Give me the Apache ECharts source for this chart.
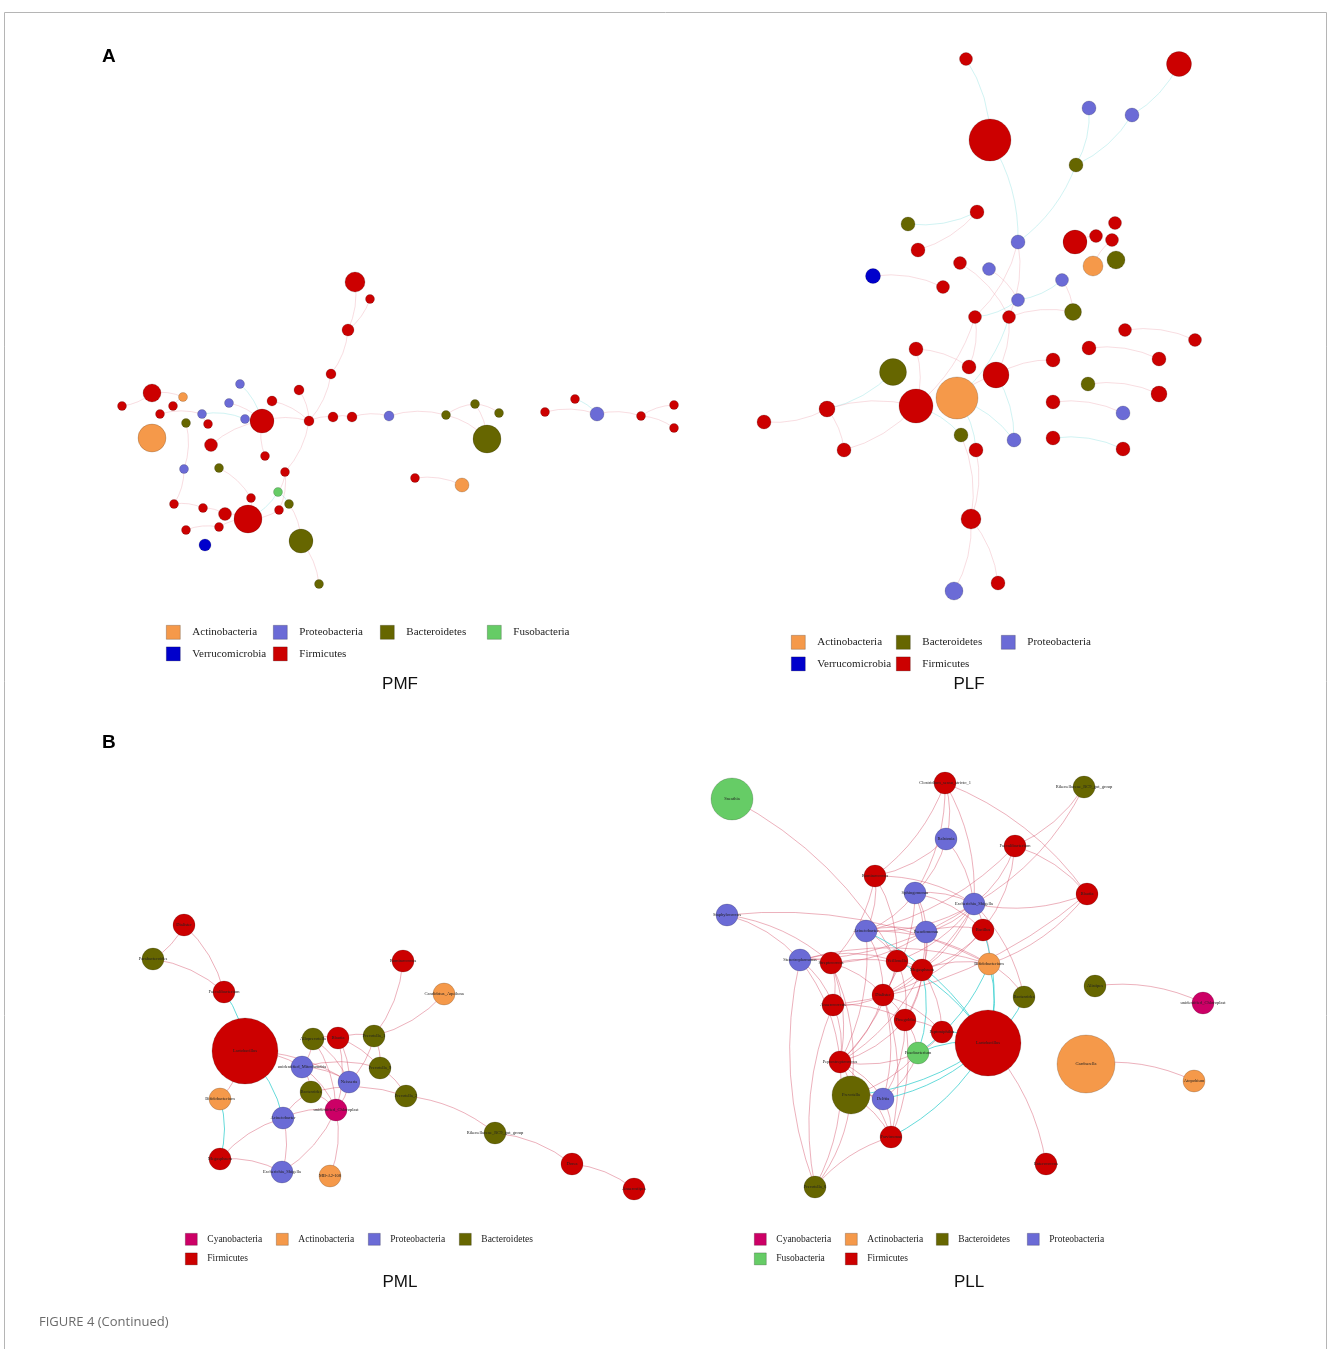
<!DOCTYPE html>
<html>
<head>
<meta charset="utf-8">
<title>Figure 4 (Continued)</title>
<script src="https://cdn.jsdelivr.net/npm/echarts@6/dist/echarts.min.js"></script>
<style>
  html, body { margin: 0; padding: 0; background: #fff; }
  #chart { width: 1328px; height: 1349px; }
</style>
</head>
<body>
<div id="chart"></div>
<script>
// phyla and their colours
const phyla = ['Actinobacteria', 'Proteobacteria', 'Bacteroidetes', 'Fusobacteria',
  'Verrucomicrobia', 'Firmicutes', 'Cyanobacteria'];
const phylumColors = ['#F5994A', '#6B6BD6', '#666600', '#66CC66', '#0000CC', '#CC0000', '#CC0066'];

// nodes: [name, phylum, x, y, abundance]  (x, y = network layout position)
const pmfNodes = [
  ['f1', 'Firmicutes', 355, 282, 20], ['f2', 'Firmicutes', 370, 299, 9],
  ['f3', 'Firmicutes', 348, 330, 12], ['f4', 'Firmicutes', 331, 374, 10],
  ['f5', 'Firmicutes', 299, 390, 10], ['f6', 'Firmicutes', 272, 401, 10],
  ['f7', 'Firmicutes', 309, 421, 10], ['f8', 'Firmicutes', 333, 417, 10],
  ['f9', 'Firmicutes', 352, 417, 10], ['f10', 'Proteobacteria', 389, 416, 10],
  ['f11', 'Firmicutes', 415, 478, 9], ['f12', 'Firmicutes', 262, 421, 24],
  ['f13', 'Proteobacteria', 240, 384, 9], ['f14', 'Proteobacteria', 229, 403, 9],
  ['f15', 'Proteobacteria', 245, 419, 9], ['f16', 'Firmicutes', 152, 393, 18],
  ['f17', 'Actinobacteria', 183, 397, 9], ['f18', 'Firmicutes', 122, 406, 9],
  ['f19', 'Firmicutes', 173, 406, 9], ['f20', 'Firmicutes', 160, 414, 9],
  ['f21', 'Proteobacteria', 202, 414, 9], ['f22', 'Bacteroidetes', 186, 423, 9],
  ['f23', 'Firmicutes', 208, 424, 9], ['f24', 'Actinobacteria', 152, 438, 28],
  ['f25', 'Firmicutes', 211, 445, 13], ['f26', 'Firmicutes', 265, 456, 9],
  ['f27', 'Proteobacteria', 184, 469, 9], ['f28', 'Bacteroidetes', 219, 468, 9],
  ['f29', 'Firmicutes', 285, 472, 9], ['f30', 'Fusobacteria', 278, 492, 9],
  ['f31', 'Bacteroidetes', 289, 504, 9], ['f32', 'Firmicutes', 279, 510, 9],
  ['f33', 'Firmicutes', 251, 498, 9], ['f34', 'Firmicutes', 174, 504, 9],
  ['f35', 'Firmicutes', 203, 508, 9], ['f36', 'Firmicutes', 225, 514, 13],
  ['f37', 'Firmicutes', 248, 519, 28], ['f38', 'Firmicutes', 186, 530, 9],
  ['f39', 'Firmicutes', 219, 527, 9], ['f40', 'Verrucomicrobia', 205, 545, 12],
  ['f41', 'Bacteroidetes', 301, 541, 24], ['f42', 'Bacteroidetes', 319, 584, 9],
  ['f43', 'Bacteroidetes', 446, 415, 9], ['f44', 'Bacteroidetes', 475, 404, 9],
  ['f45', 'Bacteroidetes', 499, 413, 9], ['f46', 'Bacteroidetes', 487, 439, 28],
  ['f47', 'Firmicutes', 545, 412, 9], ['f48', 'Firmicutes', 575, 399, 9],
  ['f49', 'Proteobacteria', 597, 414, 14], ['f50', 'Firmicutes', 641, 416, 9],
  ['f51', 'Firmicutes', 674, 405, 9], ['f52', 'Firmicutes', 674, 428, 9],
  ['f53', 'Actinobacteria', 462, 485, 14]
];
// links: [source, target, sign]  (1 positive, -1 negative correlation)
const pmfLinks = [
  ['f1', 'f3', 1], ['f2', 'f3', 1], ['f3', 'f4', 1], ['f4', 'f7', 1], ['f5', 'f7', 1],
  ['f6', 'f7', 1], ['f7', 'f8', 1], ['f8', 'f9', 1], ['f9', 'f10', 1], ['f10', 'f43', 1],
  ['f43', 'f44', 1], ['f43', 'f46', 1], ['f44', 'f46', 1], ['f44', 'f45', 1],
  ['f47', 'f49', 1], ['f48', 'f49', -1], ['f49', 'f50', 1], ['f50', 'f51', 1], ['f50', 'f52', 1],
  ['f11', 'f53', 1], ['f7', 'f29', 1], ['f29', 'f30', 1], ['f30', 'f37', -1], ['f31', 'f41', 1],
  ['f41', 'f42', 1], ['f12', 'f15', 1], ['f13', 'f12', -1], ['f14', 'f12', 1], ['f12', 'f7', 1],
  ['f16', 'f17', 1], ['f16', 'f18', 1], ['f20', 'f21', 1], ['f21', 'f15', -1], ['f22', 'f27', 1],
  ['f25', 'f12', 1], ['f27', 'f34', 1], ['f34', 'f35', 1], ['f35', 'f36', 1], ['f36', 'f37', 1],
  ['f28', 'f33', 1], ['f33', 'f37', 1], ['f38', 'f39', 1], ['f39', 'f37', 1], ['f32', 'f37', 1],
  ['f26', 'f12', 1], ['f19', 'f17', 1], ['f23', 'f21', 1], ['f29', 'f32', 1], ['f30', 'f31', -1]
];

const plfNodes = [
  ['l1', 'Firmicutes', 966, 59, 13], ['l2', 'Firmicutes', 1179, 64, 25],
  ['l3', 'Proteobacteria', 1089, 108, 14], ['l4', 'Proteobacteria', 1132, 115, 14],
  ['l5', 'Firmicutes', 990, 140, 42], ['l6', 'Bacteroidetes', 1076, 165, 14],
  ['l7', 'Firmicutes', 977, 212, 14], ['l8', 'Bacteroidetes', 908, 224, 14],
  ['l9', 'Firmicutes', 918, 250, 14], ['l10', 'Proteobacteria', 1018, 242, 14],
  ['l11', 'Firmicutes', 1075, 242, 24], ['l12', 'Firmicutes', 1096, 236, 13],
  ['l13', 'Firmicutes', 1115, 223, 13], ['l14', 'Firmicutes', 1112, 240, 13],
  ['l15', 'Actinobacteria', 1093, 266, 20], ['l16', 'Bacteroidetes', 1116, 260, 18],
  ['l17', 'Firmicutes', 960, 263, 13], ['l18', 'Proteobacteria', 989, 269, 13],
  ['l19', 'Verrucomicrobia', 873, 276, 15], ['l20', 'Firmicutes', 943, 287, 13],
  ['l21', 'Proteobacteria', 1062, 280, 13], ['l22', 'Proteobacteria', 1018, 300, 13],
  ['l23', 'Bacteroidetes', 1073, 312, 17], ['l24', 'Firmicutes', 975, 317, 13],
  ['l25', 'Firmicutes', 1009, 317, 13], ['l26', 'Firmicutes', 1125, 330, 13],
  ['l27', 'Firmicutes', 1195, 340, 13], ['l28', 'Firmicutes', 1089, 348, 14],
  ['l29', 'Firmicutes', 1159, 359, 14], ['l30', 'Firmicutes', 1053, 360, 14],
  ['l31', 'Firmicutes', 916, 349, 14], ['l32', 'Bacteroidetes', 893, 372, 27],
  ['l33', 'Firmicutes', 969, 367, 14], ['l34', 'Firmicutes', 996, 375, 26],
  ['l35', 'Bacteroidetes', 1088, 384, 14], ['l36', 'Firmicutes', 1159, 394, 16],
  ['l37', 'Actinobacteria', 957, 398, 42], ['l38', 'Firmicutes', 916, 406, 34],
  ['l39', 'Firmicutes', 827, 409, 16], ['l40', 'Firmicutes', 764, 422, 14],
  ['l41', 'Firmicutes', 1053, 402, 14], ['l42', 'Proteobacteria', 1123, 413, 14],
  ['l43', 'Bacteroidetes', 961, 435, 14], ['l44', 'Proteobacteria', 1014, 440, 14],
  ['l45', 'Firmicutes', 1053, 438, 14], ['l46', 'Firmicutes', 844, 450, 14],
  ['l47', 'Firmicutes', 976, 450, 14], ['l48', 'Firmicutes', 1123, 449, 14],
  ['l49', 'Firmicutes', 971, 519, 20], ['l50', 'Proteobacteria', 954, 591, 18],
  ['l51', 'Firmicutes', 998, 583, 14]
];
const plfLinks = [
  ['l1', 'l5', -1], ['l5', 'l10', -1], ['l2', 'l4', -1], ['l4', 'l6', -1], ['l3', 'l6', -1],
  ['l6', 'l10', -1], ['l7', 'l8', -1], ['l7', 'l9', 1], ['l10', 'l24', 1], ['l10', 'l25', 1],
  ['l17', 'l25', 1], ['l18', 'l22', 1], ['l19', 'l20', 1], ['l21', 'l22', -1], ['l21', 'l23', 1],
  ['l22', 'l24', -1], ['l25', 'l23', 1], ['l15', 'l14', 1], ['l11', 'l12', 1], ['l24', 'l38', 1],
  ['l24', 'l33', 1], ['l25', 'l34', 1], ['l25', 'l37', -1], ['l31', 'l38', 1], ['l31', 'l33', 1],
  ['l32', 'l39', -1], ['l39', 'l40', 1], ['l39', 'l38', 1], ['l39', 'l46', 1], ['l38', 'l46', 1],
  ['l37', 'l34', 1], ['l34', 'l30', 1], ['l37', 'l44', -1], ['l34', 'l44', -1], ['l43', 'l49', 1],
  ['l47', 'l49', 1], ['l49', 'l50', 1], ['l49', 'l51', 1], ['l26', 'l27', 1], ['l28', 'l29', 1],
  ['l35', 'l36', 1], ['l41', 'l42', 1], ['l45', 'l48', -1], ['l37', 'l47', -1], ['l38', 'l43', -1]
];

const pmlNodes = [
  ['Dialister', 'Firmicutes', 184, 925, 22], ['Parabacteroides', 'Bacteroidetes', 153, 959, 22],
  ['Ruminococcus', 'Firmicutes', 403, 961, 22], ['Faecalibacterium', 'Firmicutes', 224, 992, 22],
  ['Candidatus_Aquiluna', 'Actinobacteria', 444, 994, 22], ['Lactobacillus', 'Firmicutes', 245, 1051, 66],
  ['Alloprevotella', 'Bacteroidetes', 313, 1039, 22], ['Blautia', 'Firmicutes', 338, 1038, 22],
  ['Prevotella_1', 'Bacteroidetes', 374, 1036, 22], ['unidentified_Mitochondria', 'Proteobacteria', 302, 1067, 22],
  ['Prevotella_9', 'Bacteroidetes', 380, 1068, 22], ['Neisseria', 'Proteobacteria', 349, 1082, 22],
  ['Bacteroides', 'Bacteroidetes', 311, 1092, 22], ['Bifidobacterium', 'Actinobacteria', 220, 1099, 22],
  ['Prevotella_2', 'Bacteroidetes', 406, 1096, 22], ['unidentified_Chloroplast', 'Cyanobacteria', 336, 1110, 22],
  ['Acinetobacter', 'Proteobacteria', 283, 1118, 22], ['Rikenellaceae_RC9_gut_group', 'Bacteroidetes', 495, 1133, 22],
  ['Megasphaera', 'Firmicutes', 220, 1159, 22], ['Escherichia_Shigella', 'Proteobacteria', 282, 1172, 22],
  ['MB-A2-108', 'Actinobacteria', 330, 1176, 22], ['Dorea', 'Firmicutes', 572, 1164, 22],
  ['Anaerostipes', 'Firmicutes', 634, 1189, 22]
];
const pmlLinks = [
  ['Dialister', 'Parabacteroides', 1], ['Dialister', 'Faecalibacterium', 1],
  ['Parabacteroides', 'Faecalibacterium', 1], ['Faecalibacterium', 'Lactobacillus', -1],
  ['Lactobacillus', 'unidentified_Mitochondria', 1], ['Lactobacillus', 'Bifidobacterium', 1],
  ['Lactobacillus', 'Acinetobacter', -1], ['Bifidobacterium', 'Megasphaera', -1],
  ['Megasphaera', 'Acinetobacter', 1], ['Megasphaera', 'Escherichia_Shigella', 1],
  ['Acinetobacter', 'Escherichia_Shigella', 1], ['unidentified_Chloroplast', 'MB-A2-108', 1],
  ['unidentified_Chloroplast', 'Escherichia_Shigella', 1], ['Ruminococcus', 'Prevotella_1', 1],
  ['Candidatus_Aquiluna', 'Prevotella_1', 1], ['Prevotella_2', 'Rikenellaceae_RC9_gut_group', 1],
  ['Rikenellaceae_RC9_gut_group', 'Dorea', 1], ['Dorea', 'Anaerostipes', 1],
  ['Alloprevotella', 'Blautia', 1], ['Blautia', 'Prevotella_1', 1],
  ['Alloprevotella', 'unidentified_Mitochondria', 1], ['unidentified_Mitochondria', 'Bacteroides', 1],
  ['Blautia', 'Neisseria', 1], ['Prevotella_1', 'Prevotella_9', 1], ['Prevotella_9', 'Prevotella_2', 1],
  ['Prevotella_1', 'Neisseria', 1], ['Bacteroides', 'unidentified_Chloroplast', 1],
  ['Neisseria', 'unidentified_Chloroplast', 1], ['unidentified_Mitochondria', 'unidentified_Chloroplast', 1],
  ['Blautia', 'unidentified_Chloroplast', 1], ['Alloprevotella', 'unidentified_Chloroplast', 1],
  ['unidentified_Mitochondria', 'Prevotella_9', 1], ['Alloprevotella', 'Neisseria', 1],
  ['Bacteroides', 'Prevotella_2', 1], ['Blautia', 'Prevotella_9', 1],
  ['Acinetobacter', 'unidentified_Chloroplast', 1], ['Acinetobacter', 'Bacteroides', 1],
  ['unidentified_Mitochondria', 'Neisseria', 1], ['Lactobacillus', 'Neisseria', 1]
];

const pllNodes = [
  ['Sneathia', 'Fusobacteria', 732, 799, 42], ['Clostridium_sensu_stricto_1', 'Firmicutes', 945, 783, 22],
  ['Rikenellaceae_RC9_gut_group', 'Bacteroidetes', 1084, 787, 22], ['Ralstonia', 'Proteobacteria', 946, 839, 22],
  ['Faecalibacterium', 'Firmicutes', 1015, 846, 22], ['Ruminococcus', 'Firmicutes', 875, 876, 22],
  ['Blautia', 'Firmicutes', 1087, 894, 22], ['Sphingomonas', 'Proteobacteria', 915, 893, 22],
  ['Escherichia_Shigella', 'Proteobacteria', 974, 904, 22], ['Staphylococcus', 'Proteobacteria', 727, 915, 22],
  ['Acinetobacter', 'Proteobacteria', 866, 931, 22], ['Pseudomonas', 'Proteobacteria', 926, 932, 22],
  ['Bacillus', 'Firmicutes', 983, 930, 22], ['Stenotrophomonas', 'Proteobacteria', 800, 960, 22],
  ['Streptococcus', 'Firmicutes', 831, 963, 22], ['Veillonella', 'Firmicutes', 897, 961, 22],
  ['Megasphaera', 'Firmicutes', 922, 970, 22], ['Bifidobacterium', 'Actinobacteria', 989, 964, 22],
  ['Bacteroides', 'Bacteroidetes', 1024, 997, 22], ['Alistipes', 'Bacteroidetes', 1095, 986, 22],
  ['unidentified_Chloroplast', 'Cyanobacteria', 1203, 1003, 22], ['Dialister', 'Firmicutes', 883, 995, 22],
  ['Anaerococcus', 'Firmicutes', 833, 1005, 22], ['Finegoldia', 'Firmicutes', 905, 1020, 22],
  ['Peptoniphilus', 'Firmicutes', 942, 1032, 22], ['Lactobacillus', 'Firmicutes', 988, 1043, 66],
  ['Fusobacterium', 'Fusobacteria', 918, 1053, 22], ['Gardnerella', 'Actinobacteria', 1086, 1064, 58],
  ['Atopobium', 'Actinobacteria', 1194, 1081, 22], ['Peptostreptococcus', 'Firmicutes', 840, 1062, 22],
  ['Prevotella', 'Bacteroidetes', 851, 1095, 38], ['Delftia', 'Proteobacteria', 883, 1099, 22],
  ['Parvimonas', 'Firmicutes', 891, 1137, 22], ['Enterococcus', 'Firmicutes', 1046, 1164, 22],
  ['Prevotella_6', 'Bacteroidetes', 815, 1187, 22]
];
const pllLinks = [
  ['Sneathia', 'Veillonella', 1], ['Clostridium_sensu_stricto_1', 'Ralstonia', 1],
  ['Clostridium_sensu_stricto_1', 'Ruminococcus', 1], ['Clostridium_sensu_stricto_1', 'Blautia', 1],
  ['Clostridium_sensu_stricto_1', 'Escherichia_Shigella', 1], ['Clostridium_sensu_stricto_1', 'Sphingomonas', 1],
  ['Rikenellaceae_RC9_gut_group', 'Faecalibacterium', 1], ['Rikenellaceae_RC9_gut_group', 'Escherichia_Shigella', 1],
  ['Ralstonia', 'Sphingomonas', 1], ['Ralstonia', 'Escherichia_Shigella', 1], ['Ralstonia', 'Ruminococcus', 1],
  ['Faecalibacterium', 'Blautia', 1], ['Faecalibacterium', 'Escherichia_Shigella', 1],
  ['Faecalibacterium', 'Bacillus', 1], ['Faecalibacterium', 'Acinetobacter', 1],
  ['Ruminococcus', 'Acinetobacter', 1], ['Ruminococcus', 'Streptococcus', 1],
  ['Ruminococcus', 'Escherichia_Shigella', 1], ['Ruminococcus', 'Veillonella', 1],
  ['Staphylococcus', 'Stenotrophomonas', 1], ['Staphylococcus', 'Streptococcus', 1],
  ['Staphylococcus', 'Bifidobacterium', 1], ['Sphingomonas', 'Acinetobacter', 1],
  ['Sphingomonas', 'Pseudomonas', 1], ['Sphingomonas', 'Escherichia_Shigella', 1],
  ['Sphingomonas', 'Megasphaera', 1], ['Sphingomonas', 'Bacillus', 1], ['Sphingomonas', 'Dialister', 1],
  ['Escherichia_Shigella', 'Acinetobacter', 1], ['Escherichia_Shigella', 'Pseudomonas', 1],
  ['Escherichia_Shigella', 'Bacillus', 1], ['Escherichia_Shigella', 'Veillonella', 1],
  ['Escherichia_Shigella', 'Megasphaera', 1], ['Escherichia_Shigella', 'Stenotrophomonas', 1],
  ['Escherichia_Shigella', 'Bacteroides', 1], ['Escherichia_Shigella', 'Dialister', 1],
  ['Blautia', 'Bifidobacterium', 1], ['Blautia', 'Escherichia_Shigella', 1], ['Blautia', 'Anaerococcus', 1],
  ['Acinetobacter', 'Pseudomonas', 1], ['Acinetobacter', 'Veillonella', 1], ['Acinetobacter', 'Dialister', 1],
  ['Acinetobacter', 'Bifidobacterium', 1], ['Acinetobacter', 'Peptostreptococcus', 1],
  ['Acinetobacter', 'Lactobacillus', -1], ['Pseudomonas', 'Megasphaera', 1], ['Pseudomonas', 'Bacillus', 1],
  ['Pseudomonas', 'Finegoldia', 1], ['Pseudomonas', 'Streptococcus', 1], ['Bacillus', 'Bifidobacterium', 1],
  ['Bacillus', 'Lactobacillus', -1], ['Bacillus', 'Megasphaera', 1], ['Bacillus', 'Dialister', 1],
  ['Stenotrophomonas', 'Streptococcus', 1], ['Stenotrophomonas', 'Veillonella', 1],
  ['Stenotrophomonas', 'Anaerococcus', 1], ['Stenotrophomonas', 'Peptostreptococcus', 1],
  ['Stenotrophomonas', 'Bifidobacterium', 1], ['Streptococcus', 'Dialister', 1],
  ['Streptococcus', 'Anaerococcus', 1], ['Streptococcus', 'Megasphaera', 1], ['Streptococcus', 'Prevotella', 1],
  ['Streptococcus', 'Peptostreptococcus', 1], ['Veillonella', 'Megasphaera', 1], ['Veillonella', 'Dialister', 1],
  ['Veillonella', 'Finegoldia', 1], ['Veillonella', 'Peptostreptococcus', 1], ['Veillonella', 'Lactobacillus', -1],
  ['Megasphaera', 'Dialister', 1], ['Megasphaera', 'Finegoldia', 1], ['Megasphaera', 'Peptoniphilus', 1],
  ['Megasphaera', 'Peptostreptococcus', 1], ['Megasphaera', 'Fusobacterium', -1],
  ['Megasphaera', 'Bifidobacterium', 1], ['Bifidobacterium', 'Bacteroides', 1],
  ['Bifidobacterium', 'Lactobacillus', -1], ['Bifidobacterium', 'Fusobacterium', -1],
  ['Bacteroides', 'Lactobacillus', -1], ['Alistipes', 'unidentified_Chloroplast', 1],
  ['Gardnerella', 'Atopobium', 1], ['Dialister', 'Anaerococcus', 1], ['Dialister', 'Finegoldia', 1],
  ['Dialister', 'Peptostreptococcus', 1], ['Dialister', 'Delftia', 1], ['Dialister', 'Parvimonas', 1],
  ['Dialister', 'Peptoniphilus', 1], ['Anaerococcus', 'Peptostreptococcus', 1],
  ['Anaerococcus', 'Finegoldia', 1], ['Finegoldia', 'Peptoniphilus', 1], ['Finegoldia', 'Fusobacterium', 1],
  ['Finegoldia', 'Peptostreptococcus', 1], ['Finegoldia', 'Delftia', 1], ['Finegoldia', 'Parvimonas', 1],
  ['Peptoniphilus', 'Lactobacillus', -1], ['Peptoniphilus', 'Fusobacterium', 1],
  ['Fusobacterium', 'Lactobacillus', -1], ['Fusobacterium', 'Peptostreptococcus', 1],
  ['Fusobacterium', 'Delftia', 1], ['Fusobacterium', 'Prevotella', 1], ['Lactobacillus', 'Enterococcus', 1],
  ['Lactobacillus', 'Prevotella', -1], ['Lactobacillus', 'Parvimonas', -1], ['Lactobacillus', 'Delftia', -1],
  ['Peptostreptococcus', 'Prevotella', 1], ['Peptostreptococcus', 'Delftia', 1],
  ['Peptostreptococcus', 'Parvimonas', 1], ['Peptostreptococcus', 'Prevotella_6', 1],
  ['Prevotella', 'Parvimonas', 1], ['Prevotella', 'Delftia', 1], ['Prevotella', 'Prevotella_6', 1],
  ['Delftia', 'Parvimonas', 1], ['Prevotella_6', 'Anaerococcus', 1], ['Prevotella_6', 'Parvimonas', 1],
  ['Prevotella_6', 'Stenotrophomonas', 1]
];

// legend columns per panel
const pmfLegend = [['Actinobacteria', 'Verrucomicrobia'], ['Proteobacteria', 'Firmicutes'], ['Bacteroidetes'], ['Fusobacteria']];
const plfLegend = [['Actinobacteria', 'Verrucomicrobia'], ['Bacteroidetes', 'Firmicutes'], ['Proteobacteria']];
const pmlLegend = [['Cyanobacteria', 'Firmicutes'], ['Actinobacteria'], ['Proteobacteria'], ['Bacteroidetes']];
const pllLegend = [['Cyanobacteria', 'Fusobacteria'], ['Actinobacteria', 'Firmicutes'], ['Bacteroidetes'], ['Proteobacteria']];

const chart = echarts.init(document.getElementById('chart'));

const categories = phyla.map((name, i) => ({ name: name, itemStyle: { color: phylumColors[i] } }));

// 构建网络图 series
const makeGraph = (nodes, links, opts) => ({
  type: 'graph',
  coordinateSystem: 'cartesian2d',
  categories: categories,
  silent: true,
  animation: false,
  data: nodes.map((n) => ({
    name: n[0],
    value: [n[2], n[3]],
    category: phyla.indexOf(n[1]),
    symbolSize: n[4]
  })),
  links: links.map((l) => ({
    source: l[0],
    target: l[1],
    lineStyle: { color: l[2] > 0 ? opts.pos : opts.neg }
  })),
  itemStyle: { borderColor: 'rgba(0,0,0,0.28)', borderWidth: 0.6 },
  lineStyle: { width: opts.lineWidth, curveness: 0.15, opacity: 1 },
  label: {
    show: opts.labels,
    position: 'inside',
    fontSize: 4.5,
    fontFamily: 'Liberation Serif',
    color: '#222'
  }
});

const faint = { pos: 'rgba(235,160,170,0.45)', neg: 'rgba(140,225,225,0.5)', lineWidth: 0.8, labels: false };
const strong = { pos: 'rgba(210,70,95,0.42)', neg: 'rgba(50,205,205,0.75)', lineWidth: 1, labels: true };

// legend: one vertical legend per column (legend box padding is 5px)
const makeLegends = (cols, lefts, top, box, pitch, fontSize, textGap) =>
  cols.map((col, i) => ({
    orient: 'vertical',
    left: lefts[i] - 5,
    top: top - 5,
    data: col,
    icon: 'rect',
    itemWidth: box,
    itemHeight: box,
    itemGap: pitch - box,
    selectedMode: false,
    itemStyle: { borderColor: 'rgba(0,0,0,0.35)', borderWidth: 0.6 },
    textStyle: {
      fontFamily: 'Liberation Serif',
      fontSize: fontSize,
      color: '#222',
      padding: [0, 0, 0, textGap]
    }
  }));

const legends = [].concat(
  makeLegends(pmfLegend, [166, 273, 380, 487], 625, 14, 21, 11, 7),
  makeLegends(plfLegend, [791, 896, 1001], 635, 14, 21, 11, 7),
  makeLegends(pmlLegend, [185, 276, 368, 459], 1233, 12, 19, 9.5, 5),
  makeLegends(pllLegend, [754, 845, 936, 1027], 1233, 12, 19, 9.5, 5)
);

const panelTitle = (text, x, y) => ({
  type: 'text',
  x: x,
  y: y,
  style: {
    text: text,
    font: '17px "Liberation Sans", Arial, sans-serif',
    fill: '#111',
    align: 'center',
    verticalAlign: 'middle'
  }
});

const option = {
  backgroundColor: '#fff',
  animation: false,
  grid: { left: 0, right: 0, top: 0, bottom: 0 },
  xAxis: { type: 'value', min: 0, max: 1328, show: false },
  yAxis: { type: 'value', min: 0, max: 1349, inverse: true, show: false },
  legend: legends,
  graphic: [
    {
      type: 'rect',
      shape: { x: 4.5, y: 12.5, width: 1322, height: 1345 },
      style: { fill: 'none', stroke: '#b5b5b5', lineWidth: 1 },
      silent: true
    },
    {
      type: 'text', x: 102, y: 57,
      style: { text: 'A', font: 'bold 19px "Liberation Sans", Arial, sans-serif', fill: '#000', verticalAlign: 'middle' }
    },
    {
      type: 'text', x: 102, y: 743,
      style: { text: 'B', font: 'bold 19px "Liberation Sans", Arial, sans-serif', fill: '#000', verticalAlign: 'middle' }
    },
    panelTitle('PMF', 400, 684),
    panelTitle('PLF', 969, 684),
    panelTitle('PML', 400, 1282),
    panelTitle('PLL', 969, 1282),
    {
      type: 'text', x: 39, y: 1322,
      style: { text: 'FIGURE 4 (Continued)', font: '13px "Open Sans", sans-serif', fill: '#6b6b6b', verticalAlign: 'middle' }
    }
  ],
  series: [
    makeGraph(pmfNodes, pmfLinks, faint),
    makeGraph(plfNodes, plfLinks, faint),
    makeGraph(pmlNodes, pmlLinks, strong),
    makeGraph(pllNodes, pllLinks, strong)
  ]
};

chart.setOption(option);
</script>
</body>
</html>
